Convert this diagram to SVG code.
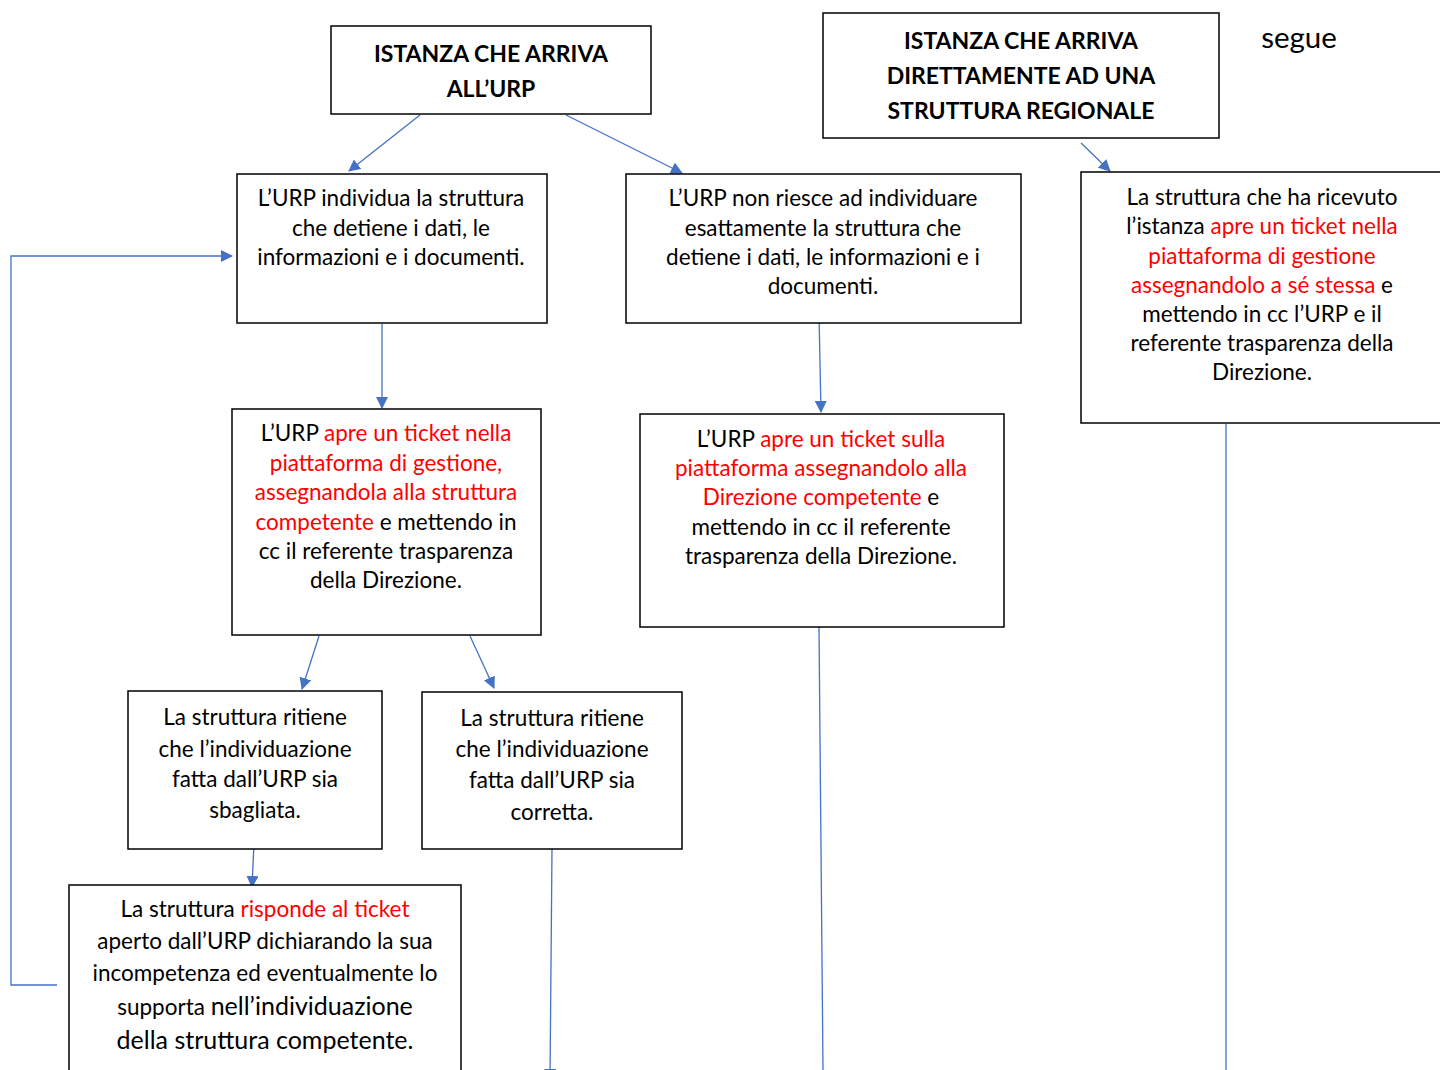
<svg xmlns="http://www.w3.org/2000/svg" width="1440" height="1070" viewBox="0 0 1440 1070">
<style>
.box{fill:#fff;stroke:#000;stroke-width:1.5}
.t{font-family:Lato,"Liberation Sans",sans-serif;font-size:22.5px;fill:#000;text-anchor:middle}
.h{font-family:Lato,"Liberation Sans",sans-serif;font-size:23px;font-weight:bold;fill:#000;text-anchor:middle}
.r{fill:#ff0000}
.c{fill:none;stroke:#4472c4;stroke-width:1.3}
</style>
<defs>
<marker id="ah" markerWidth="12" markerHeight="12" refX="11" refY="6" orient="auto" markerUnits="userSpaceOnUse">
<path d="M0,0 L12,6 L0,12 z" fill="#4472c4"/>
</marker>
</defs>
<rect width="1440" height="1070" fill="#fff"/>
<g id="connectors">
<line class="c" x1="420" y1="115" x2="349" y2="171" marker-end="url(#ah)"/>
<line class="c" x1="566" y1="115" x2="682" y2="173" marker-end="url(#ah)"/>
<line class="c" x1="1081" y1="143" x2="1110" y2="171" marker-end="url(#ah)"/>
<line class="c" x1="382" y1="324" x2="382" y2="408" marker-end="url(#ah)"/>
<line class="c" x1="819" y1="314" x2="821" y2="412" marker-end="url(#ah)"/>
<line class="c" x1="319" y1="636" x2="302" y2="689" marker-end="url(#ah)"/>
<line class="c" x1="470" y1="636" x2="494" y2="688" marker-end="url(#ah)"/>
<line class="c" x1="254" y1="843" x2="252" y2="887" marker-end="url(#ah)"/>
<line class="c" x1="552" y1="849" x2="550" y2="1080" marker-end="url(#ah)"/>
<line class="c" x1="819" y1="627" x2="823" y2="1070"/>
<line class="c" x1="1226" y1="424" x2="1226" y2="1070"/>
<polyline class="c" points="57,985 11,985 11,256 232,256" marker-end="url(#ah)"/>
</g>
<g id="n1">
<rect class="box" x="331" y="26" width="320" height="88"/>
<text class="h" x="491" y="62">ISTANZA CHE ARRIVA</text>
<text class="h" x="491" y="97">ALL’URP</text>
</g>
<g id="n2">
<rect class="box" x="823" y="13" width="396" height="125"/>
<text class="h" x="1021" y="49">ISTANZA CHE ARRIVA</text>
<text class="h" x="1021" y="84">DIRETTAMENTE AD UNA</text>
<text class="h" x="1021" y="119">STRUTTURA REGIONALE</text>
</g>
<g id="segue">
<text class="t" x="1299" y="48" style="font-size:29.5px">segue</text>
</g>
<g id="n3">
<rect class="box" x="237" y="174" width="310" height="149"/>
<text class="t" x="391" y="206">L’URP individua la struttura</text>
<text class="t" x="391" y="236">che detiene i dati, le</text>
<text class="t" x="391" y="265">informazioni e i documenti.</text>
</g>
<g id="n4">
<rect class="box" x="626" y="174" width="395" height="149"/>
<text class="t" x="823" y="206">L’URP non riesce ad individuare</text>
<text class="t" x="823" y="236">esattamente la struttura che</text>
<text class="t" x="823" y="265">detiene i dati, le informazioni e i</text>
<text class="t" x="823" y="294">documenti.</text>
</g>
<g id="n5">
<rect class="box" x="1081" y="172" width="370" height="251"/>
<text class="t" x="1262" y="205">La struttura che ha ricevuto</text>
<text class="t" x="1262" y="234">l’istanza <tspan class="r">apre un ticket nella</tspan></text>
<text class="t" x="1262" y="264"><tspan class="r">piattaforma di gestione</tspan></text>
<text class="t" x="1262" y="293"><tspan class="r">assegnandolo a sé stessa</tspan> e</text>
<text class="t" x="1262" y="322">mettendo in cc l’URP e il</text>
<text class="t" x="1262" y="351">referente trasparenza della</text>
<text class="t" x="1262" y="380">Direzione.</text>
</g>
<g id="n6">
<rect class="box" x="232" y="409" width="309" height="226"/>
<text class="t" x="386" y="441">L’URP <tspan class="r">apre un ticket nella</tspan></text>
<text class="t" x="386" y="471"><tspan class="r">piattaforma di gestione,</tspan></text>
<text class="t" x="386" y="500"><tspan class="r">assegnandola alla struttura</tspan></text>
<text class="t" x="386" y="530"><tspan class="r">competente</tspan> e mettendo in</text>
<text class="t" x="386" y="559">cc il referente trasparenza</text>
<text class="t" x="386" y="588">della Direzione.</text>
</g>
<g id="n7">
<rect class="box" x="640" y="414" width="364" height="213"/>
<text class="t" x="821" y="447">L’URP <tspan class="r">apre un ticket sulla</tspan></text>
<text class="t" x="821" y="476"><tspan class="r">piattaforma assegnandolo alla</tspan></text>
<text class="t" x="821" y="505"><tspan class="r">Direzione competente</tspan> e</text>
<text class="t" x="821" y="535">mettendo in cc il referente</text>
<text class="t" x="821" y="564">trasparenza della Direzione.</text>
</g>
<g id="n8">
<rect class="box" x="128" y="691" width="254" height="158"/>
<text class="t" x="255" y="725">La struttura ritiene</text>
<text class="t" x="255" y="757">che l’individuazione</text>
<text class="t" x="255" y="787">fatta dall’URP sia</text>
<text class="t" x="255" y="818">sbagliata.</text>
</g>
<g id="n9">
<rect class="box" x="422" y="692" width="260" height="157"/>
<text class="t" x="552" y="726">La struttura ritiene</text>
<text class="t" x="552" y="757">che l’individuazione</text>
<text class="t" x="552" y="788">fatta dall’URP sia</text>
<text class="t" x="552" y="820">corretta.</text>
</g>
<g id="n10">
<rect class="box" x="69" y="885" width="392" height="200"/>
<text class="t" x="265" y="917">La struttura <tspan class="r">risponde al ticket</tspan></text>
<text class="t" x="265" y="949">aperto dall’URP dichiarando la sua</text>
<text class="t" x="265" y="981">incompetenza ed eventualmente lo</text>
<text class="t" x="265" y="1015">supporta <tspan style="font-size:25px">nell’individuazione</tspan></text>
<text class="t" x="265" y="1049" style="font-size:25px">della struttura competente.</text>
</g>
</svg>
